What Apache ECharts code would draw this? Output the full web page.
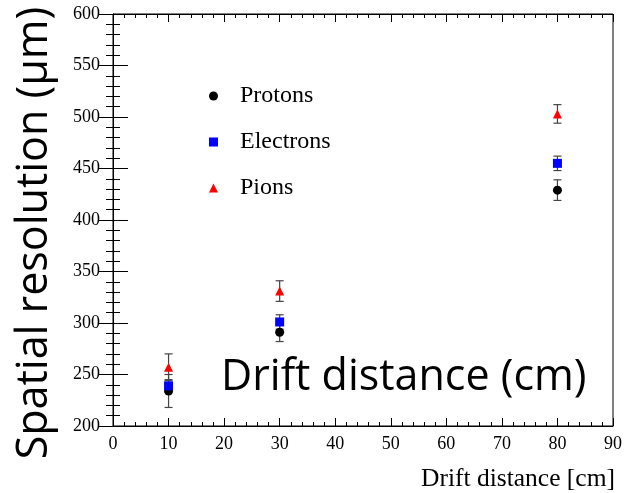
<!DOCTYPE html>
<html>
<head>
<meta charset="utf-8">
<script src="https://cdn.jsdelivr.net/npm/echarts@6/dist/echarts.min.js"></script>
<style>
  html, body { margin: 0; padding: 0; background: #fff; }
  #chart { width: 625px; height: 493px; }
</style>
</head>
<body>
<div id="chart"></div>
<script>
(function() {
    const drift = [10, 30, 80];
    const protons = [234, 291, 429];
    const protonErr = [16, 9, 10];
    const electrons = [239, 301, 455];
    const electronErr = [6, 7, 7];
    const pions = [257, 331, 503];
    const pionErr = [13, 10, 9];

    const chart = echarts.init(document.getElementById('chart'));

    const serif = 'Liberation Serif';

    function points(vals) {
      return drift.map((x, i) => [x, vals[i]]);
    }
    function bars(vals, errs) {
      return drift.map((x, i) => [x, vals[i] - errs[i], vals[i] + errs[i]]);
    }

    // vertical error bar with small caps
    function errorBar(params, api) {
      const x = api.value(0);
      const lo = api.coord([x, api.value(1)]);
      const hi = api.coord([x, api.value(2)]);
      const half = 4;
      const style = { stroke: '#444', lineWidth: 1.2 };
      return {
        type: 'group',
        children: [
          { type: 'line', shape: { x1: lo[0], y1: lo[1], x2: hi[0], y2: hi[1] }, style: style },
          { type: 'line', shape: { x1: lo[0] - half, y1: lo[1], x2: lo[0] + half, y2: lo[1] }, style: style },
          { type: 'line', shape: { x1: hi[0] - half, y1: hi[1], x2: hi[0] + half, y2: hi[1] }, style: style }
        ]
      };
    }

    const axisLine = { show: true, lineStyle: { color: '#000', width: 1 } };
    const xTick = { inside: true, length: 8, lineStyle: { color: '#000' } };
    const xMinor = { show: true, splitNumber: 5, length: 4, lineStyle: { color: '#000' } };
    const yTick = { inside: true, length: 15, lineStyle: { color: '#000' } };
    const yMinor = { show: true, splitNumber: 5, length: 7, lineStyle: { color: '#000' } };

    const option = {
      animation: false,
      grid: {
        left: 113,
        right: 11,
        top: 14,
        bottom: 67,
        show: true,
        borderColor: '#000',
        borderWidth: 1
      },
      legend: {
        orient: 'vertical',
        left: 204,
        top: 77,
        itemGap: 18,
        itemWidth: 9,
        itemHeight: 9,
        data: [
          { name: 'Protons', icon: 'circle' },
          { name: 'Electrons', icon: 'rect' },
          { name: 'Pions', icon: 'triangle' }
        ],
        textStyle: { fontFamily: serif, fontSize: 24, lineHeight: 28, color: '#000', padding: [0, 0, 0, 17] }
      },
      xAxis: [
        {
          type: 'value',
          min: 0,
          max: 90,
          interval: 10,
          axisLine: axisLine,
          axisTick: xTick,
          minorTick: xMinor,
          splitLine: { show: false },
          axisLabel: { fontFamily: serif, fontSize: 18, color: '#000', margin: 9 }
        },
        {
          type: 'value',
          position: 'top',
          min: 0,
          max: 90,
          interval: 10,
          axisLine: axisLine,
          axisTick: xTick,
          minorTick: xMinor,
          splitLine: { show: false },
          axisLabel: { show: false }
        }
      ],
      yAxis: [
        {
          type: 'value',
          min: 200,
          max: 600,
          interval: 50,
          axisLine: axisLine,
          axisTick: yTick,
          minorTick: yMinor,
          splitLine: { show: false },
          axisLabel: { fontFamily: serif, fontSize: 18, color: '#000', margin: 13 }
        },
        {
          type: 'value',
          position: 'right',
          min: 200,
          max: 600,
          interval: 50,
          axisLine: axisLine,
          axisTick: yTick,
          minorTick: yMinor,
          splitLine: { show: false },
          axisLabel: { show: false }
        }
      ],
      graphic: [
        {
          type: 'text',
          x: 35,
          y: 233,
          rotation: Math.PI / 2,
          style: {
            text: 'Spatial resolution (µm)',
            font: '43px "Open Sans"',
            fill: '#000',
            align: 'center',
            verticalAlign: 'middle'
          }
        },
        {
          type: 'text',
          right: 10,
          top: 466,
          style: { text: 'Drift distance [cm]', font: '25.5px "Liberation Serif"', fill: '#000' }
        },
        {
          type: 'text',
          left: 221,
          top: 356,
          style: { text: 'Drift distance (cm)', font: '43px "Open Sans"', fill: '#000' }
        }
      ],
      series: [
        { type: 'custom', renderItem: errorBar, data: bars(protons, protonErr), z: 1, silent: true },
        { type: 'custom', renderItem: errorBar, data: bars(electrons, electronErr), z: 1, silent: true },
        { type: 'custom', renderItem: errorBar, data: bars(pions, pionErr), z: 1, silent: true },
        {
          name: 'Protons',
          type: 'scatter',
          data: points(protons),
          symbol: 'circle',
          symbolSize: 9,
          itemStyle: { color: '#000', opacity: 1 },
          z: 3
        },
        {
          name: 'Electrons',
          type: 'scatter',
          data: points(electrons),
          symbol: 'rect',
          symbolSize: 9,
          itemStyle: { color: '#0000ff', opacity: 1 },
          z: 3
        },
        {
          name: 'Pions',
          type: 'scatter',
          data: points(pions),
          symbol: 'triangle',
          symbolSize: 9,
          itemStyle: { color: '#ff0000', opacity: 1 },
          z: 3
        }
      ]
    };

    chart.setOption(option);
    window.addEventListener('resize', () => chart.resize());
})();
</script>
</body>
</html>
